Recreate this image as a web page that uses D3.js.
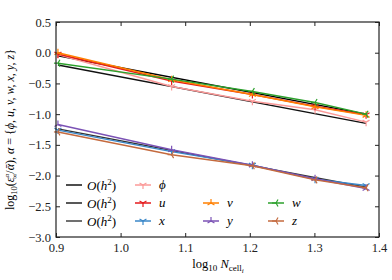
<!DOCTYPE html>
<html lang="en">
<head>
<meta charset="utf-8">
<script src="https://d3js.org/d3.v7.min.js"></script>
<style>
  body { margin: 0; background: #fff; }
  svg text { font-family: "Liberation Serif", "DejaVu Serif", serif !important; }
</style>
</head>
<body>
<svg width="392" height="280"></svg>
<script>
// log10 of number of cells
var xs = [0.903, 1.079, 1.204, 1.301, 1.380];

var phi = [-0.03, -0.55, -0.79, -0.93, -1.13];
var u   = [-0.02, -0.46, -0.68, -0.87, -1.01];
var v   = [0.00, -0.44, -0.68, -0.88, -1.02];
var w   = [-0.17, -0.43, -0.63, -0.81, -1.00];
var xv  = [-1.26, -1.61, -1.83, -2.06, -2.16];
var yv  = [-1.17, -1.58, -1.83, -2.05, -2.21];
var zv  = [-1.29, -1.66, -1.84, -2.07, -2.20];

// second order reference lines (start, end)
var refs = [[-0.05, -1.00], [-0.20, -1.15], [-1.24, -2.19]];

var xTicks = [0.9, 1.0, 1.1, 1.2, 1.3, 1.4];
var yTicks = [0.5, 0.0, -0.5, -1.0, -1.5, -2.0, -2.5, -3.0];

var series = [
  {name: "ϕ", vals: phi, color: "#fb9a99", mk: "down"},
  {name: "u", vals: u,   color: "#e41a1c", mk: "down"},
  {name: "v", vals: v,   color: "#ff7f00", mk: "up"},
  {name: "w", vals: w,   color: "#2ca02c", mk: "left"},
  {name: "x", vals: xv,  color: "#3a87c8", mk: "down"},
  {name: "y", vals: yv,  color: "#7b52b5", mk: "up"},
  {name: "z", vals: zv,  color: "#c46a3e", mk: "left"}
];

var svg = d3.select("svg");
var L = 56, R = 379, T = 22, B = 237;

var x = d3.scaleLinear().domain([0.9, 1.4]).range([L, R]);
var y = d3.scaleLinear().domain([-3.0, 0.5]).range([B, T]);

function fmt(d) { return d3.format(".1f")(d).replace("-", "\u2212"); }

function styleAxis(g) {
  g.select(".domain").remove();
  g.attr("font-family", null);
  g.selectAll("text").attr("font-size", 12.5).attr("fill", "#222");
}

// ticks (inward, all sides)
svg.append("g").attr("transform", "translate(0," + B + ")")
  .call(d3.axisBottom(x).tickValues(xTicks).tickSize(-4).tickPadding(6).tickFormat(fmt))
  .call(styleAxis);
svg.append("g").attr("transform", "translate(0," + T + ")")
  .call(d3.axisTop(x).tickValues(xTicks).tickSize(-4).tickFormat(""))
  .call(styleAxis);
svg.append("g").attr("transform", "translate(" + L + ",0)")
  .call(d3.axisLeft(y).tickValues(yTicks).tickSize(-4).tickPadding(5).tickFormat(fmt))
  .call(styleAxis);
svg.append("g").attr("transform", "translate(" + R + ",0)")
  .call(d3.axisRight(y).tickValues(yTicks).tickSize(-4).tickFormat(""))
  .call(styleAxis);
svg.selectAll(".tick line").attr("stroke", "#222");

var line = d3.line().x(function(d) { return x(d[0]); }).y(function(d) { return y(d[1]); });

// reference lines
var refCols = ["#000", "#111", "#333"];
refs.forEach(function(r, i) {
  svg.append("path")
    .datum([[xs[0], r[0]], [xs[4], r[1]]])
    .attr("d", line).attr("fill", "none")
    .attr("stroke", refCols[i]).attr("stroke-width", 1.4);
});

function marker(g, cx, cy, kind, col) {
  var s = 4, a;
  if (kind === "down") a = [90, 210, 330];
  else if (kind === "up") a = [270, 30, 150];
  else a = [180, 300, 60];
  a.forEach(function(deg) {
    var r = deg * Math.PI / 180;
    g.append("line").attr("x1", cx).attr("y1", cy)
      .attr("x2", cx + s * Math.cos(r)).attr("y2", cy + s * Math.sin(r))
      .attr("stroke", col).attr("stroke-width", 1.2);
  });
}

series.forEach(function(s) {
  var pts = xs.map(function(d, i) { return [d, s.vals[i]]; });
  svg.append("path").datum(pts).attr("d", line).attr("fill", "none")
    .attr("stroke", s.color).attr("stroke-width", 1.5);
  var g = svg.append("g");
  pts.forEach(function(p) { marker(g, x(p[0]), y(p[1]), s.mk, s.color); });
});

// frame
svg.append("rect").attr("x", L).attr("y", T).attr("width", R - L).attr("height", B - T)
  .attr("fill", "none").attr("stroke", "#222").attr("stroke-width", 1.2);

// legend
var rows = [185, 203, 221];
var lg = svg.append("g").attr("font-size", 13);
rows.forEach(function(ry, i) {
  lg.append("line").attr("x1", 66).attr("x2", 82).attr("y1", ry).attr("y2", ry)
    .attr("stroke", refCols[i]).attr("stroke-width", 1.4);
  var t = lg.append("text").attr("x", 87).attr("y", ry + 4.5);
  t.append("tspan").attr("font-style", "italic").text("O");
  t.append("tspan").text("(");
  t.append("tspan").attr("font-style", "italic").text("h");
  t.append("tspan").attr("font-size", 9).attr("dy", -5).text("2");
  t.append("tspan").attr("dy", 5).text(")");
});
var slots = [[0, 1], [1, 1], [1, 2], [1, 3], [2, 1], [2, 2], [2, 3]];
var colX = [0, 135, 203, 268];
series.forEach(function(s, i) {
  var ry = rows[slots[i][0]], cx = colX[slots[i][1]];
  lg.append("line").attr("x1", cx).attr("x2", cx + 16).attr("y1", ry).attr("y2", ry)
    .attr("stroke", s.color).attr("stroke-width", 1.5);
  marker(lg, cx + 8, ry, s.mk, s.color);
  lg.append("text").attr("x", cx + 24).attr("y", ry + 4).attr("font-style", "italic").text(s.name);
});

// axis labels
var xl = svg.append("text").attr("x", 218).attr("y", 268).attr("text-anchor", "middle").attr("font-size", 12.5);
xl.append("tspan").text("log");
xl.append("tspan").attr("font-size", 9).attr("dy", 3).text("10");
xl.append("tspan").attr("dy", -3).attr("font-style", "italic").text(" N");
xl.append("tspan").attr("font-size", 9).attr("dy", 3).text("cell");
xl.append("tspan").attr("font-size", 7).attr("dy", 2).attr("font-style", "italic").text("i");

var yl = svg.append("text").attr("transform", "translate(14," + ((T + B) / 2) + ") rotate(-90)")
  .attr("text-anchor", "middle").attr("font-size", 12);
yl.append("tspan").text("log");
yl.append("tspan").attr("font-size", 8.5).attr("dy", 3).text("10");
yl.append("tspan").attr("dy", -3).text("(");
yl.append("tspan").attr("font-style", "italic").text("ε");
yl.append("tspan").attr("font-size", 7).attr("dy", -5).attr("font-style", "italic").text("α");
yl.append("tspan").attr("font-size", 7).attr("dx", -5).attr("dy", 8).text("∞");
yl.append("tspan").attr("dy", -3).text("/");
yl.append("tspan").attr("font-style", "italic").text("ᾱ");
yl.append("tspan").text("), ");
yl.append("tspan").attr("font-style", "italic").text("α");
yl.append("tspan").text(" = {");
yl.append("tspan").attr("font-style", "italic").text("ϕ, u, v, w, x, y, z");
yl.append("tspan").text("}");
</script>
</body>
</html>
